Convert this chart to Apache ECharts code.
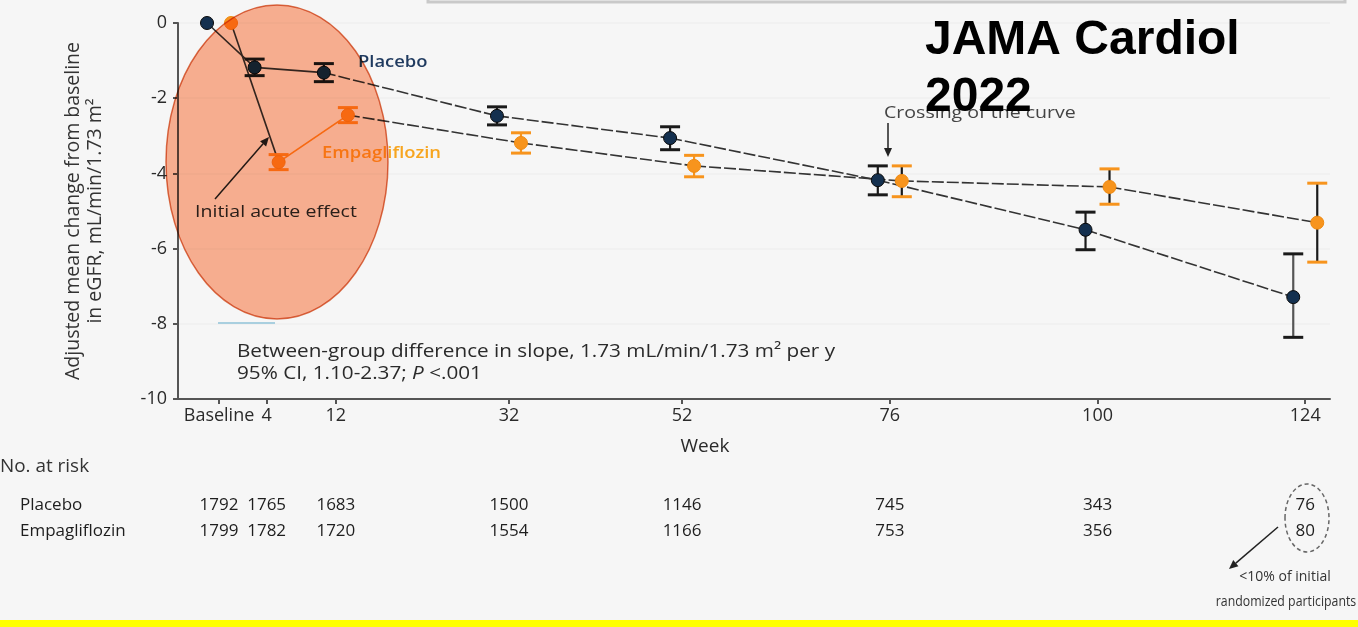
<!DOCTYPE html>
<html><head><meta charset="utf-8">
<script src="https://cdn.jsdelivr.net/npm/echarts@6/dist/echarts.min.js"></script>
<style>html,body{margin:0;padding:0;background:#f6f6f6}#c{width:1358px;height:627px}</style>
</head><body><div id="c"></div>
<script>
// ---- data ----
// visit position on the week axis; the baseline visit is drawn just left of week 4, as in the figure
const visitWeek = [-1.5, 4, 12, 32, 52, 76, 100, 124];
const visitLabels = ['Baseline', '4', '12', '32', '52', '76', '100', '124'];
const placeboMean = [0, -1.18, -1.32, -2.47, -3.06, -4.18, -5.50, -7.29];
const placeboLow  = [0, -1.40, -1.56, -2.71, -3.37, -4.57, -6.03, -8.36];
const placeboHigh = [0, -0.96, -1.08, -2.23, -2.76, -3.80, -5.03, -6.14];
const empaMean = [0, -3.70, -2.45, -3.19, -3.80, -4.20, -4.36, -5.31];
const empaLow  = [0, -3.90, -2.65, -3.46, -4.09, -4.62, -4.82, -6.36];
const empaHigh = [0, -3.50, -2.25, -2.92, -3.52, -3.80, -3.88, -4.26];
const riskRows = ['Placebo', 'Empagliflozin'];
const placeboAtRisk = [1792, 1765, 1683, 1500, 1146, 745, 343, 76];
const empaAtRisk = [1799, 1782, 1720, 1554, 1166, 753, 356, 80];

// ---- styles ----
const FONT = '"Open Sans", "DejaVu Sans", sans-serif';
const NAVY = '#14304f';
const ORANGE = '#f7941d';
const LINE = '#333333';
const TEXT = '#2a2a2a';
const DODGE = 12;
const SX = 1.15;

function groupData(mean, low, high) {
  return visitWeek.map((w, i) => [w, mean[i], low[i], high[i], i > 0 ? visitWeek[i - 1] : w, i > 0 ? mean[i - 1] : mean[i]]);
}

function lineSeries(name, mean, low, high, dx, isEmpa) {
  return {
    type: 'custom', name: name, z: 2, clip: false,
    data: groupData(mean, low, high),
    renderItem: function (params, api) {
      const i = params.dataIndex;
      if (i === 0) return null;
      const p1 = api.coord([api.value(4), api.value(5)]);
      const p2 = api.coord([api.value(0), api.value(1)]);
      let stroke = LINE, dash = [12, 3], w = 1.6;
      if (isEmpa && i === 1) { dash = null; }
      if (isEmpa && i === 2) { stroke = ORANGE; dash = null; w = 1.8; }
      if (!isEmpa && i <= 2) { dash = null; }
      return {
        type: 'line',
        shape: { x1: p1[0] + dx, y1: p1[1], x2: p2[0] + dx, y2: p2[1] },
        style: { stroke: stroke, lineWidth: w, lineDash: dash }
      };
    }
  };
}

function markerSeries(name, mean, low, high, dx, fill, capColor, isEmpa) {
  return {
    type: 'custom', name: name, z: 3, clip: false,
    data: groupData(mean, low, high),
    renderItem: function (params, api) {
      const i = params.dataIndex;
      const c = api.coord([api.value(0), api.value(1)]);
      const lo = api.coord([api.value(0), api.value(2)]);
      const hi = api.coord([api.value(0), api.value(3)]);
      const x = c[0] + dx;
      const children = [];
      if (i > 0) {
        const span = api.value(3) - api.value(2);
        const stemColor = isEmpa ? (span > 0.7 ? '#1a1a1a' : ORANGE) : (span > 1.5 ? '#555' : '#1a1a1a');
        children.push({ type: 'line', shape: { x1: x, y1: lo[1], x2: x, y2: hi[1] }, style: { stroke: stemColor, lineWidth: 2.2 } });
        children.push({ type: 'line', shape: { x1: x - 10, y1: lo[1], x2: x + 10, y2: lo[1] }, style: { stroke: capColor, lineWidth: 3 } });
        children.push({ type: 'line', shape: { x1: x - 10, y1: hi[1], x2: x + 10, y2: hi[1] }, style: { stroke: capColor, lineWidth: 3 } });
      }
      children.push({ type: 'circle', shape: { cx: x, cy: c[1], r: 6.5 }, style: { fill: fill, stroke: isEmpa ? '#f08a10' : '#0a0a0a', lineWidth: 1 } });
      return { type: 'group', children: children };
    }
  };
}

function arrow(x1, y1, x2, y2, color, z, w) {
  const a = Math.atan2(y2 - y1, x2 - x1);
  const L = 9, W = 4;
  const bx = x2 - L * Math.cos(a), by = y2 - L * Math.sin(a);
  const px = -Math.sin(a) * W, py = Math.cos(a) * W;
  return [
    { type: 'line', z: z, shape: { x1: x1, y1: y1, x2: bx, y2: by }, style: { stroke: color, lineWidth: w || 1.5 } },
    { type: 'polygon', z: z, shape: { points: [[x2, y2], [bx + px, by + py], [bx - px, by - py]] }, style: { fill: color } }
  ];
}

function label(x, y, text, font, fill, sx, extra) {
  return { type: 'text', z: 10, x: x, y: y, scaleX: sx || 1,
    style: Object.assign({ text: text, fill: fill, font: font, verticalAlign: 'middle' }, extra || {}) };
}

const chart = echarts.init(document.getElementById('c'), null, { renderer: 'canvas' });

const graphics = [
  { type: 'rect', z: 1, shape: { x: 428, y: -20, width: 917, height: 22 }, style: { fill: 'none', stroke: '#c9c9c9', lineWidth: 3 } },
  { type: 'rect', z: 1, shape: { x: 0, y: 620, width: 1358, height: 7 }, style: { fill: '#ffff00' } },
  { type: 'line', z: 1, shape: { x1: 218, y1: 323, x2: 275, y2: 323 }, style: { stroke: '#a9cfdf', lineWidth: 2 } },
  label(358, 62, 'Placebo', '600 16px ' + FONT, '#1f3a5f', SX),
  label(322, 153, 'Empagliflozin', '600 16px ' + FONT, '#f7a51f', SX),
  label(195, 212, 'Initial acute effect', '17px ' + FONT, TEXT, SX),
  ...arrow(215, 199, 269, 137, '#222', 10),
  label(884, 113, 'Crossing of the curve', '17px ' + FONT, '#444', SX),
  ...arrow(888, 123, 888, 157, '#222', 10),
  label(237, 352, 'Between-group difference in slope, 1.73 mL/min/1.73 m² per y', '18px ' + FONT, TEXT, SX),
  label(237, 374, '95% CI, 1.10-2.37; {i|P} <.001', '18px ' + FONT, TEXT, SX,
    { rich: { i: { fontStyle: 'italic', fontSize: 18, fontFamily: FONT, fill: TEXT } } }),
  { type: 'ellipse', z: 50, shape: { cx: 277, cy: 162, rx: 111, ry: 157 },
    style: { fill: 'rgb(255,180,148)', stroke: 'rgb(222,118,78)', lineWidth: 1.5, blend: 'multiply' } },
  label(0, 467, 'No. at risk', '18px ' + FONT, '#333', 1.05),
  { type: 'ellipse', z: 10, shape: { cx: 1307, cy: 518, rx: 22, ry: 34 }, style: { fill: 'none', stroke: '#666', lineWidth: 1.5, lineDash: [4, 3] } },
  ...arrow(1278, 527, 1229, 569, '#222', 10),
  label(1285, 577, '<10% of initial', '14px ' + FONT, '#333', 1, { align: 'center' }),
  label(1286, 602, 'randomized participants', '14px ' + FONT, '#333', 0.88, { align: 'center' }),
  { type: 'text', z: 200, x: 925, y: 12, style: { text: 'JAMA Cardiol\n2022', fill: '#000', font: 'bold 48px "Liberation Sans", Arial, sans-serif', lineHeight: 57, verticalAlign: 'top' } }
];

const X_MIN = -6.24, X_MAX = 126.86;

const option = {
  backgroundColor: '#f6f6f6',
  animation: false,
  grid: [
    { left: 178, right: 28, top: 23, bottom: 228 },
    { left: 178, right: 28, top: 492, height: 52 }
  ],
  xAxis: [
    {
      type: 'value', gridIndex: 0, min: X_MIN, max: X_MAX,
      splitLine: { show: false },
      axisLine: { onZero: false, lineStyle: { color: '#555', width: 2 } },
      axisTick: { show: true, customValues: visitWeek, length: 5, lineStyle: { color: '#555', width: 2 } },
      axisLabel: { customValues: visitWeek, fontSize: 18, color: TEXT, fontFamily: FONT, margin: 8,
        showMinLabel: true, showMaxLabel: true,
        formatter: v => visitLabels[visitWeek.indexOf(v)] },
      name: 'Week', nameLocation: 'middle', nameGap: 38,
      nameTextStyle: { fontSize: 19, color: TEXT, fontFamily: FONT, padding: [0, 98, 0, 0] }
    },
    { type: 'value', gridIndex: 1, min: X_MIN, max: X_MAX, show: false }
  ],
  yAxis: [
    {
      type: 'value', gridIndex: 0, min: -10, max: 0, interval: 2,
      axisLine: { show: true, onZero: false, lineStyle: { color: '#555', width: 2 } },
      axisTick: { show: true, length: 5, lineStyle: { color: '#555', width: 2 } },
      axisLabel: { fontSize: 18, color: TEXT, fontFamily: FONT, margin: 11 },
      splitLine: { show: true, lineStyle: { color: '#efefef', width: 1.5 } },
      name: 'Adjusted mean change from baseline\nin eGFR, mL/min/1.73 m²',
      nameLocation: 'middle', nameRotate: 90, nameGap: 72,
      nameTextStyle: { fontSize: 19.5, color: '#333', fontFamily: FONT, lineHeight: 22 }
    },
    {
      type: 'category', gridIndex: 1, data: riskRows, inverse: true,
      axisLine: { show: false }, axisTick: { show: false }, splitLine: { show: false },
      axisLabel: { align: 'left', margin: 158, fontSize: 17, color: '#1e1e1e', fontFamily: FONT }
    }
  ],
  series: [
    lineSeries('Placebo line', placeboMean, placeboLow, placeboHigh, -DODGE, false),
    lineSeries('Empagliflozin line', empaMean, empaLow, empaHigh, DODGE, true),
    markerSeries('Placebo', placeboMean, placeboLow, placeboHigh, -DODGE, NAVY, '#1a1a1a', false),
    markerSeries('Empagliflozin', empaMean, empaLow, empaHigh, DODGE, ORANGE, ORANGE, true),
    {
      type: 'custom', name: 'At risk', xAxisIndex: 1, yAxisIndex: 1,
      data: visitWeek.map((w, i) => [w, 0, placeboAtRisk[i]]).concat(visitWeek.map((w, i) => [w, 1, empaAtRisk[i]])),
      renderItem: function (params, api) {
        const p = api.coord([api.value(0), api.value(1)]);
        return { type: 'text', x: p[0], y: p[1], style: { text: String(api.value(2)), fill: '#1e1e1e', font: '17px ' + FONT, align: 'center', verticalAlign: 'middle' } };
      }
    }
  ],
  graphic: { elements: graphics }
};
chart.setOption(option);
</script>
</body></html>
